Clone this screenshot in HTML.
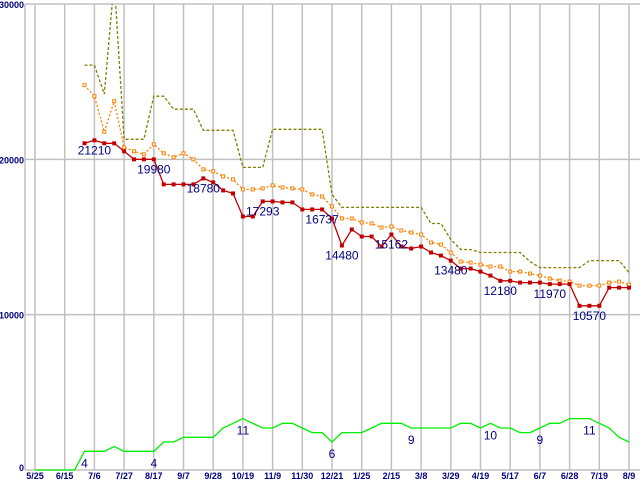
<!DOCTYPE html>
<html><head><meta charset="utf-8"><style>
html,body{margin:0;padding:0;background:#fff;}
svg{display:block;}
text{font-family:"Liberation Sans",sans-serif;fill:#000080;}
</style></head><body>
<svg id="chart" width="640" height="480" viewBox="0 0 640 480" xmlns="http://www.w3.org/2000/svg">
<defs><clipPath id="plotclip"><rect x="25" y="4" width="615" height="470"/></clipPath></defs>
<g id="grid"></g>
<g id="series" clip-path="url(#plotclip)"></g>
<g id="labels"></g>
</svg>
<script>
const xTickLabels = ["5/25","6/15","7/6","7/27","8/17","9/7","9/28","10/19","11/9","11/30","12/21","1/25","2/15","3/8","3/29","4/19","5/17","6/7","6/28","7/19","8/9"];
const yTickValues = [0,10000,20000,30000];
const priceStart = 5;
const lowPrice = [21032,21226,21032,21032,20516,20000,20000,20000,18387,18387,18387,18387,18774,18516,18000,17806,16323,16323,17290,17290,17226,17226,16774,16774,16774,16194,14452,15484,15032,15032,14387,15161,14387,14258,14387,14000,13806,13480,12968,12968,12774,12516,12180,12180,12065,12065,12065,11970,11970,11970,10570,10570,10570,11742,11742,11742];
const avgPrice = [24774,24065,21774,23742,20774,20516,20323,20968,20387,20129,20387,20000,19355,19226,18903,18710,18065,18065,18129,18323,18194,18129,18065,17742,17613,16968,16194,16194,15935,15871,15613,15677,15419,15290,15161,14645,14516,14000,13419,13355,13226,13097,13097,12774,12774,12645,12516,12323,12194,12129,11871,11871,11871,12065,12129,11935];
const highPrice = [26065,26065,24194,31500,21290,21290,21290,24065,24065,23226,23226,23226,21871,21871,21871,21871,19484,19484,19484,21935,21935,21935,21935,21935,21935,17742,16903,16903,16903,16903,16903,16903,16903,16903,16903,15871,15871,14839,14194,14194,14000,14000,14000,14000,14000,13419,13032,13032,13032,13032,13032,13484,13484,13484,13484,12710];
const listingCount = [0,0,0,0,0,4,4,4,5,4,4,4,4,6,6,7,7,7,7,9,10,11,10,9,9,10,10,9,8,8,6,8,8,8,9,10,10,10,9,9,9,9,9,10,10,9,10,9,9,8,8,9,10,10,11,11,11,10,9,7,6];
const priceLabelIdx = [1,7,12,18,24,26,31,37,42,47,51];
const priceLabelText = ["21210","19980","18780","17293","16737","14480","15162","13480","12180","11970","10570"];
const countLabelIdx = [5,12,21,30,38,46,51,56];

const NS="http://www.w3.org/2000/svg";
function x(i){return 35+i*9.9;}
function y(v){return 470-v*0.015533;}
function yc(c){return 470-c*4.67;}
function mk(tag,attrs,parent){const e=document.createElementNS(NS,tag);for(const k in attrs)e.setAttribute(k,attrs[k]);parent.appendChild(e);return e;}
const grid=document.getElementById('grid'),ser=document.getElementById('series'),lab=document.getElementById('labels');

yTickValues.forEach(v=>{
  const l=mk('line',{x1:25,x2:640,y1:y(v),y2:y(v),stroke:'#c0c0c0','stroke-width':1.5},grid);
  
  
  const t=mk('text',{x:v===0?24:24,y:v===0?y(v)+1:y(v)+4,'font-size':9,'font-weight':'bold','text-anchor':'end'},lab);
  t.textContent=String(v);
  
  
});
const ax=mk('line',{x1:25,x2:25,y1:4,y2:470,stroke:'#c0c0c0','stroke-width':1.5},grid);


xTickLabels.forEach((s,k)=>{
  const xi=x(k*3);
  const l=mk('line',{x1:xi,x2:xi,y1:4,y2:470,stroke:'#c0c0c0','stroke-width':1.5},grid);
  
  
  const t=mk('text',{x:xi,y:479,'font-size':9,'font-weight':'bold','text-anchor':'middle'},lab);
  t.textContent=s;
  
  
});

function pts(arr,start,fn){return arr.map((v,j)=>x(start+j).toFixed(1)+','+fn(v).toFixed(1)).join(' ');}

const gl=mk('polyline',{points:pts(listingCount,0,yc),fill:'none',stroke:'#00ee00','stroke-width':1.3},ser);



const hl=mk('polyline',{points:pts(highPrice,priceStart,y),fill:'none',stroke:'#808000','stroke-width':1.3,'stroke-dasharray':'3,2'},ser);



const al=mk('polyline',{points:pts(avgPrice,priceStart,y),fill:'none',stroke:'#ff8000','stroke-width':1.3,'stroke-dasharray':'2,2'},ser);


avgPrice.forEach((v,j)=>{
  const r=mk('rect',{x:x(priceStart+j)-1.5,y:y(v)-1.5,width:3,height:3,fill:'#fff',stroke:'#ff8000','stroke-width':1},ser);
  
  
});

const rl=mk('polyline',{points:pts(lowPrice,priceStart,y),fill:'none',stroke:'#c00000','stroke-width':1.3},ser);


lowPrice.forEach((v,j)=>{
  const r=mk('rect',{x:x(priceStart+j)-2,y:y(v)-2,width:4,height:4,fill:'#c00000'},ser);
  
  
});

priceLabelIdx.forEach((j,k)=>{
  const t=mk('text',{x:x(priceStart+j),y:y(lowPrice[j])+14,'font-size':12,'text-anchor':'middle'},lab);
  t.textContent=priceLabelText[k];
  
  
});
countLabelIdx.forEach(i=>{
  const t=mk('text',{x:x(i),y:yc(listingCount[i])+16,'font-size':12,'text-anchor':'middle'},lab);
  t.textContent=String(listingCount[i]);
  
  
});
</script>
</body></html>
